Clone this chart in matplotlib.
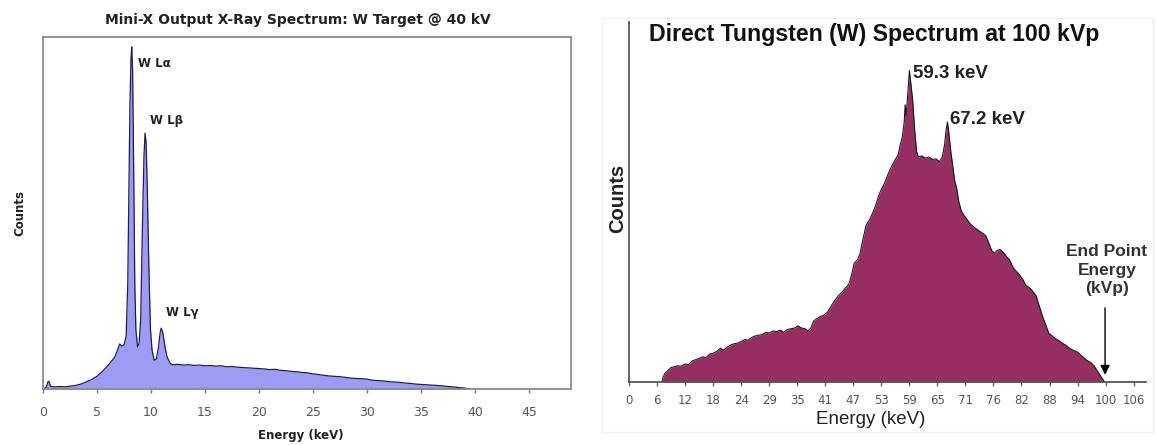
import matplotlib
matplotlib.use("Agg")
import matplotlib.pyplot as plt
import numpy as np

W, H = 1156, 445

# ---------------- Left spectrum (Mini-X, W target @ 40 kV) ----------------
left_energy = [0.0, 0.3, 0.45, 0.55, 0.7, 1.0, 1.5, 2.0, 2.5, 3.0, 3.5, 4.0, 4.5, 5.0,
               5.5, 6.0, 6.3, 6.6, 6.9, 7.1, 7.3, 7.5, 7.7, 7.85, 7.95, 8.05, 8.15, 8.22,
               8.30, 8.40, 8.50, 8.60, 8.75, 8.90, 9.05, 9.20, 9.35, 9.45, 9.55, 9.65,
               9.80, 9.95, 10.1, 10.3, 10.5, 10.7, 10.85, 10.95, 11.1, 11.3, 11.5, 11.8,
               12.0, 12.5, 13.0, 13.5, 14.0, 14.5, 15.0, 15.5, 16.0, 16.5, 17.0, 17.5,
               18.0, 18.5, 19.0, 19.5, 20.0, 20.5, 21.0, 21.5, 22.0, 22.5, 23.0, 23.5,
               24.0, 24.5, 25.0, 25.5, 26.0, 26.5, 27.0, 27.5, 28.0, 28.5, 29.0, 29.5,
               30.0, 30.5, 31.0, 31.5, 32.0, 32.5, 33.0, 33.5, 34.0, 34.5, 35.0, 35.5,
               36.0, 36.5, 37.0, 37.5, 38.0, 38.5, 39.0, 39.5]
left_counts = [0.0, 0.005, 0.020, 0.022, 0.008, 0.006, 0.007, 0.006, 0.008, 0.010, 0.014,
               0.020, 0.027, 0.036, 0.050, 0.066, 0.078, 0.088, 0.110, 0.128, 0.122, 0.125,
               0.150, 0.300, 0.550, 0.800, 0.940, 0.972, 0.900, 0.620, 0.300, 0.170, 0.120,
               0.130, 0.200, 0.450, 0.660, 0.727, 0.700, 0.580, 0.350, 0.170, 0.110, 0.082,
               0.085, 0.120, 0.160, 0.173, 0.160, 0.120, 0.090, 0.072,
               0.069, 0.070, 0.068, 0.069, 0.067, 0.068, 0.066, 0.067, 0.065, 0.066, 0.063,
               0.064, 0.062, 0.061, 0.060, 0.059, 0.058, 0.057, 0.055, 0.056, 0.053, 0.052,
               0.050, 0.049, 0.047, 0.046, 0.043, 0.041, 0.039, 0.037, 0.036, 0.035, 0.033,
               0.031, 0.030, 0.029, 0.028, 0.025, 0.024, 0.023, 0.021, 0.020, 0.019, 0.017,
               0.016, 0.014, 0.013, 0.012, 0.011, 0.010, 0.009, 0.007, 0.006, 0.004, 0.003,
               0.000]
left_ticks = [0, 5, 10, 15, 20, 25, 30, 35, 40, 45]
left_peak_labels = ["W L\u03b1", "W L\u03b2", "W L\u03b3"]
left_peak_pos = [(8.8, 0.926), (9.9, 0.764), (11.4, 0.216)]

# ---------------- Right spectrum (Direct W @ 100 kVp) ----------------
right_energy = [6.9, 7.2, 7.6, 8.2, 8.8, 9.5, 10.2, 11.0, 11.8, 12.5, 13.2, 14.0, 14.8, 15.5,
                16.2, 17.0, 17.8, 18.5, 19.2, 19.8, 20.5, 21.3, 22.0, 22.8, 23.5, 24.3, 25.0,
                25.8, 26.5, 27.3, 28.0, 28.8, 29.5, 30.3, 31.0, 31.8, 32.5, 33.3, 34.0, 34.8,
                35.5, 36.2, 37.0, 37.6, 38.2, 38.8, 39.5, 40.2, 41.0, 41.8, 42.5, 43.2, 44.0,
                44.8, 45.5, 46.2, 46.8, 47.3, 48.0, 48.5, 49.2, 49.8, 50.5, 51.2, 51.8, 52.5,
                53.2, 53.8, 54.5, 55.2, 55.8, 56.5, 57.0, 57.4, 57.8, 58.0, 58.2, 58.5, 58.9,
                59.2, 59.6, 60.0, 60.4, 60.8, 61.5, 62.2, 63.0, 63.8, 64.5, 65.2, 65.8, 66.3,
                66.6, 66.9, 67.2, 67.6, 68.0, 68.4, 68.8, 69.3, 69.8, 70.4, 71.0, 71.6, 72.3,
                73.0, 73.7, 74.4, 75.0, 75.6, 76.2, 76.8, 77.4, 78.0, 78.6, 79.2, 79.9, 80.6,
                81.3, 82.0, 82.7, 83.4, 84.1, 84.8, 85.5, 86.2, 86.8, 87.5, 88.2, 88.9, 89.6,
                90.3, 91.0, 91.8, 92.5, 93.3, 94.0, 94.8, 95.5, 96.2, 97.0, 97.7, 98.3, 99.0,
                99.5, 99.9]
right_counts = [0.0, 0.015, 0.025, 0.032, 0.040, 0.042, 0.045, 0.044, 0.050, 0.048, 0.058,
                0.062, 0.066, 0.070, 0.068, 0.078, 0.080, 0.086, 0.094, 0.088, 0.096, 0.102,
                0.106, 0.108, 0.112, 0.118, 0.116, 0.124, 0.128, 0.130, 0.132, 0.138, 0.136,
                0.142, 0.140, 0.144, 0.138, 0.146, 0.148, 0.150, 0.156, 0.150, 0.148, 0.142,
                0.150, 0.170, 0.176, 0.182, 0.186, 0.196, 0.212, 0.226, 0.240, 0.250, 0.262,
                0.272, 0.300, 0.330, 0.340, 0.355, 0.400, 0.435, 0.450, 0.470, 0.490, 0.520,
                0.540, 0.556, 0.580, 0.600, 0.615, 0.630, 0.660, 0.680, 0.720, 0.770, 0.740,
                0.790, 0.865, 0.830, 0.780, 0.700, 0.640, 0.625, 0.628, 0.622, 0.625, 0.618,
                0.620, 0.612, 0.625, 0.660, 0.700, 0.722, 0.690, 0.640, 0.600, 0.560, 0.540,
                0.500, 0.475, 0.462, 0.452, 0.440, 0.432, 0.425, 0.418, 0.412, 0.405, 0.385,
                0.365, 0.358, 0.366, 0.368, 0.360, 0.350, 0.340, 0.320, 0.308, 0.298, 0.285,
                0.268, 0.262, 0.252, 0.240, 0.210, 0.185, 0.160, 0.135, 0.128, 0.120, 0.115,
                0.108, 0.102, 0.094, 0.088, 0.085, 0.076, 0.068, 0.060, 0.054, 0.045, 0.032,
                0.018, 0.008, 0.0]
right_tick_labels = ["0", "6", "12", "18", "24", "29", "35", "41", "47", "53", "59", "65",
                     "71", "76", "82", "88", "94", "100", "106"]
right_peak_labels = ["59.3 keV", "67.2 keV"]
right_peak_pos = [(59.7, 0.858), (67.5, 0.728)]
end_point_kvp = 100

NARROW = ['Liberation Sans Narrow', 'DejaVu Sans']
ARIAL = ['Liberation Sans', 'DejaVu Sans']


def fx(px):
    return px / W


def fy(py):
    return 1 - py / H


fig = plt.figure(figsize=(W / 100, H / 100), dpi=100)
fig.patch.set_facecolor('white')

# ---------- left axes ----------
axL = fig.add_axes([fx(43), fy(389), fx(571) - fx(43), fy(37) - fy(389)])
axL.fill_between(left_energy, left_counts, 0, color='#9c9cf4', linewidth=0)
axL.plot(left_energy, left_counts, color='#1e1e50', linewidth=0.9)
axL.set_xlim(0, 48.9)
axL.set_ylim(0, 1.0)
axL.set_yticks([])
axL.set_xticks(left_ticks)
axL.set_xticklabels([str(t) for t in left_ticks], family=NARROW, fontsize=9, color='#555555')
axL.tick_params(axis='x', direction='out', length=3, width=1, color='#777777', pad=9)
for s in axL.spines.values():
    s.set_color('#8a8a8a')
    s.set_linewidth(1.3)
for lab, (x, y) in zip(left_peak_labels, left_peak_pos):
    axL.text(x, y, lab, family=NARROW, fontsize=8.5, fontweight='bold', ha='left',
             va='center', color='#222222')

fig.text(fx(298), fy(20), "Mini-X Output X-Ray Spectrum: W Target @ 40 kV", family=NARROW,
         fontsize=10, fontweight='bold', ha='center', va='center', color='#222222')
fig.text(fx(301), fy(435), "Energy (keV)", family=NARROW, fontsize=8.5, fontweight='bold',
         ha='center', va='center', color='#222222')
fig.text(fx(20), fy(213), "Counts", family=NARROW, fontsize=8.5, fontweight='bold',
         ha='center', va='center', rotation=90, color='#222222')

# ---------- right panel faint border ----------
border = plt.Rectangle((fx(602), fy(432)), fx(1153) - fx(602), fy(18) - fy(432),
                       transform=fig.transFigure, fill=False, edgecolor='#eeeeee',
                       linewidth=1)
fig.patches.append(border)

# ---------- right axes ----------
axR = fig.add_axes([fx(629), fy(382), fx(1146) - fx(629), fy(22) - fy(382)])
axR.fill_between(right_energy, right_counts, 0, color='#962e62', linewidth=0)
axR.plot(right_energy, right_counts, color='#1a1a1a', linewidth=0.8)
axR.set_xlim(0, 108.6)
axR.set_ylim(0, 1.0)
axR.set_yticks([])
tick_pos = np.linspace(0, 106, len(right_tick_labels))
axR.set_xticks(tick_pos)
axR.set_xticklabels(right_tick_labels, family=NARROW, fontsize=8.5, color='#555555')
axR.tick_params(axis='x', direction='out', length=3, width=1, color='#666666', pad=6)
axR.spines['top'].set_visible(False)
axR.spines['right'].set_visible(False)
axR.spines['left'].set_color('#555555')
axR.spines['bottom'].set_color('#555555')
axR.spines['left'].set_linewidth(1.3)
axR.spines['bottom'].set_linewidth(1.3)

for lab, (x, y) in zip(right_peak_labels, right_peak_pos):
    axR.text(x, y, lab, family=ARIAL, fontsize=13.5, fontweight='bold', ha='left',
             va='center', color='#222222')

fig.text(fx(1107), fy(270), "End Point\nEnergy\n(kVp)", family=ARIAL,
         fontsize=12.5, fontweight='bold', ha='center', va='center', color='#333333',
         linespacing=1.3)
axR.annotate("", xy=(end_point_kvp, 0.02), xytext=(end_point_kvp, 0.206),
             arrowprops=dict(arrowstyle='-|>', color='black', lw=1.0,
                             mutation_scale=14, shrinkA=0, shrinkB=0))

fig.text(fx(649), fy(35), "Direct Tungsten (W) Spectrum at 100 kVp", family=ARIAL,
         fontsize=16.7, fontweight='bold', ha='left', va='center', color='#111111')
fig.text(fx(871), fy(420), "Energy (keV)", family=ARIAL, fontsize=13.5, ha='center',
         va='center', color='#222222')
fig.text(fx(618), fy(198), "Counts", family=ARIAL, fontsize=14.5, fontweight='bold',
         ha='center', va='center', rotation=90, color='#222222')

fig.savefig("out.png", dpi=100)
